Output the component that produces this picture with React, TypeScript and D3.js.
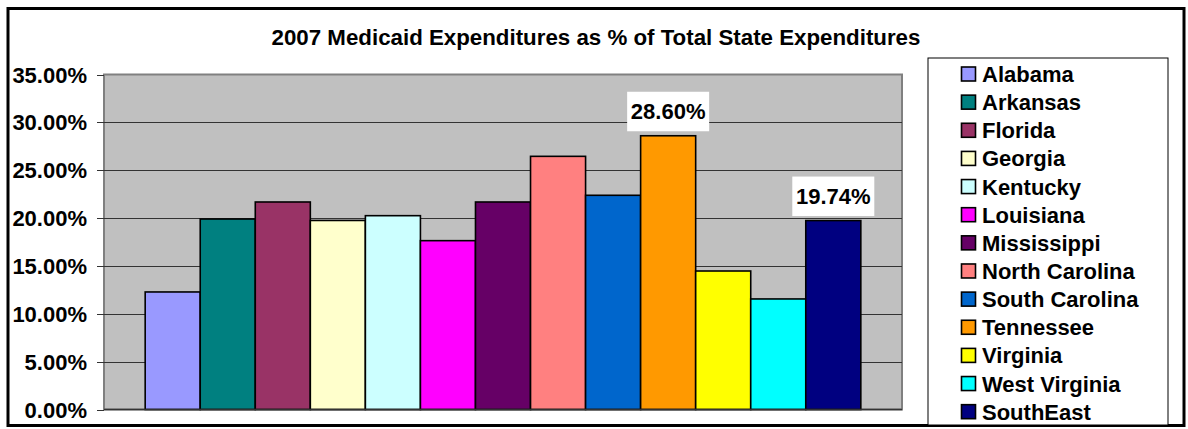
import React from "react";
import * as d3 from "d3";

const states = [
  "Alabama", "Arkansas", "Florida", "Georgia", "Kentucky", "Louisiana",
  "Mississippi", "North Carolina", "South Carolina", "Tennessee",
  "Virginia", "West Virginia", "SouthEast",
];
const values = [
  0.1228, 0.199, 0.2168, 0.1975, 0.2025, 0.1764,
  0.2168, 0.2645, 0.2238, 0.286, 0.1447, 0.1155, 0.1974,
];
const colors = [
  "#9999FF", "#008080", "#993366", "#FFFFCC", "#CCFFFF", "#FF00FF",
  "#660066", "#FF8080", "#0066CC", "#FF9900", "#FFFF00", "#00FFFF", "#000080",
];
const labelled = ["Tennessee", "SouthEast"];
const yTicks = [0, 0.05, 0.1, 0.15, 0.2, 0.25, 0.3, 0.35];
const title = "2007 Medicaid Expenditures as % of Total State Expenditures";

const W = 1188;
const H = 429;
const plot = { left: 104, right: 902, top: 74.5, bottom: 409.5 };
const FONT = "'Liberation Sans', Arial, sans-serif";

export default function App() {
  const x = d3
    .scaleBand<string>()
    .domain(states)
    .range([plot.left, plot.right])
    .paddingInner(0)
    .paddingOuter(0.748);
  const y = d3.scaleLinear().domain([0, 0.35]).range([plot.bottom, plot.top]);
  const fmt = d3.format(".2%");

  const legendX = 928;
  const legendTop = 58;
  const legendPitch = 28.14;
  const legendFirst = 74;

  return (
    <svg
      width={W}
      height={H}
      style={{ position: "absolute", left: 0, top: 0, background: "#fff" }}
      fontFamily={FONT}
    >
      <rect x={0} y={0} width={W} height={H} fill="#fff" />
      {/* outer frame */}
      <rect x={8} y={8.5} width={1176} height={417} fill="none" stroke="#000" strokeWidth={3} />
      {/* title */}
      <text x={596} y={44.5} textAnchor="middle" fontWeight="bold" fontSize={22.3} fill="#000">
        {title}
      </text>
      {/* plot area */}
      <rect
        x={plot.left}
        y={plot.top}
        width={plot.right - plot.left}
        height={plot.bottom - plot.top}
        fill="#C0C0C0"
        stroke="#808080"
        strokeWidth={2}
      />
      {/* gridlines */}
      {yTicks.slice(1, -1).map((t) => (
        <line
          key={"g" + t}
          x1={plot.left}
          x2={plot.right}
          y1={Math.round(y(t)) + 0.5}
          y2={Math.round(y(t)) + 0.5}
          stroke="#333"
          strokeWidth={1}
        />
      ))}
      {/* axis ticks + labels */}
      {yTicks.map((t) => (
        <g key={"t" + t}>
          <line
            x1={97}
            x2={plot.left}
            y1={Math.round(y(t)) + 0.5}
            y2={Math.round(y(t)) + 0.5}
            stroke="#333"
            strokeWidth={1}
          />
          <text
            x={87}
            y={y(t) + 8}
            textAnchor="end"
            fontWeight="bold"
            fontSize={22}
            fill="#000"
          >
            {fmt(t)}
          </text>
        </g>
      ))}
      {/* bars */}
      {states.map((s, i) => (
        <rect
          key={s}
          x={x(s)!}
          y={y(values[i])}
          width={x.bandwidth()}
          height={y(0) - y(values[i])}
          fill={colors[i]}
          stroke="#000"
          strokeWidth={1.6}
        />
      ))}
      {/* baseline */}
      <line x1={plot.left} x2={plot.right} y1={plot.bottom} y2={plot.bottom} stroke="#333" strokeWidth={1.5} />
      {/* data labels */}
      {states.map((s, i) =>
        labelled.includes(s) ? (
          <g key={"l" + s}>
            <rect
              x={x(s)! + x.bandwidth() / 2 - 41}
              y={y(values[i]) - 44}
              width={82}
              height={39.5}
              fill="#fff"
            />
            <text
              x={x(s)! + x.bandwidth() / 2}
              y={y(values[i]) - 16.5}
              textAnchor="middle"
              fontWeight="bold"
              fontSize={22}
              fill="#000"
            >
              {fmt(values[i])}
            </text>
          </g>
        ) : null
      )}
      {/* legend */}
      <rect x={legendX} y={legendTop} width={1168 - legendX} height={425 - legendTop} fill="#fff" stroke="#000" strokeWidth={1} />
      {states.map((s, i) => {
        const cy = legendFirst + i * legendPitch;
        return (
          <g key={"lg" + s}>
            <rect x={961.5} y={cy - 7} width={14} height={14} fill={colors[i]} stroke="#000" strokeWidth={1.6} />
            <text x={982} y={cy + 8} fontWeight="bold" fontSize={22} fill="#000">
              {s}
            </text>
          </g>
        );
      })}
    </svg>
  );
}
